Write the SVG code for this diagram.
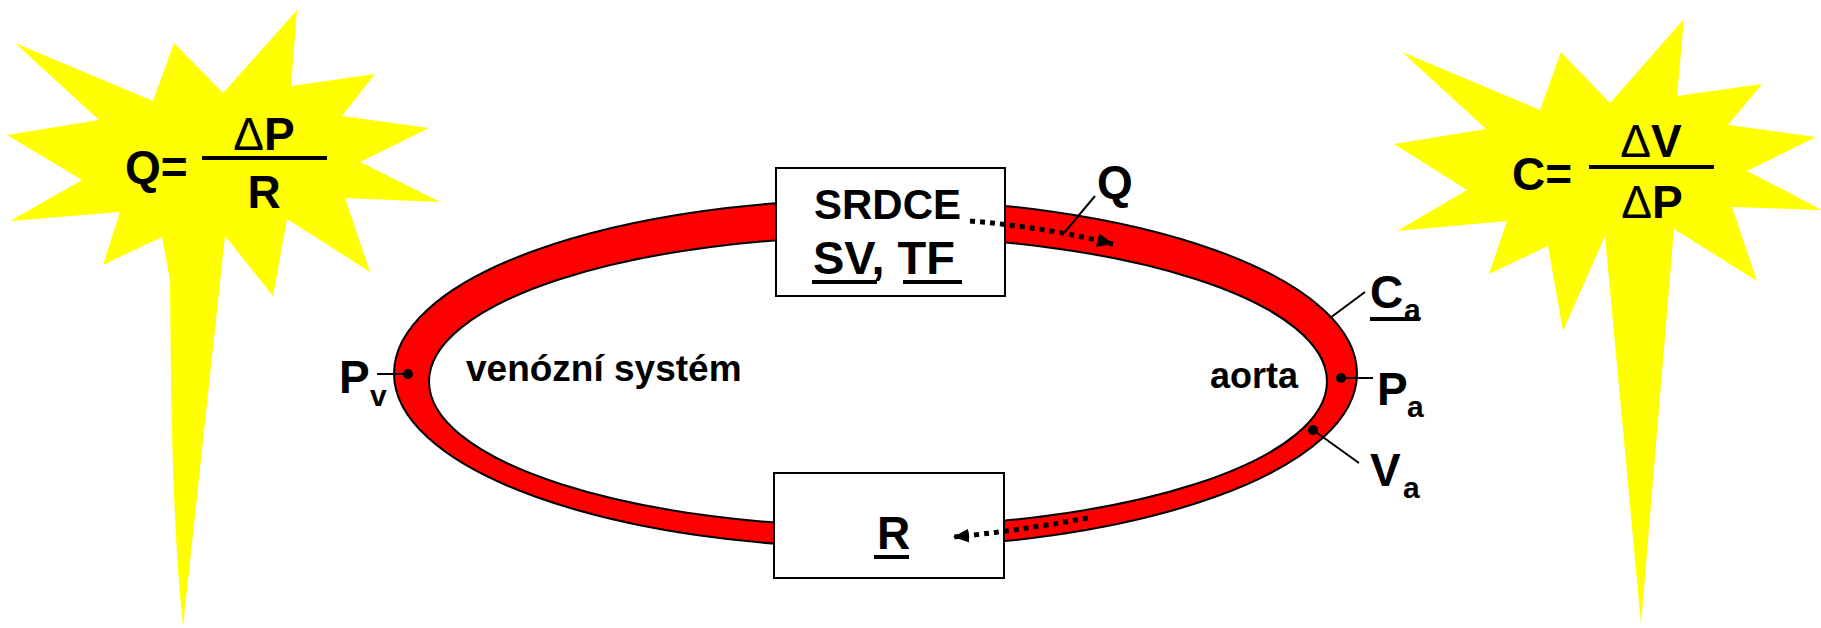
<svg xmlns="http://www.w3.org/2000/svg" width="1821" height="628" viewBox="0 0 1821 628">
<style>
text{font-family:"Liberation Sans",Arial,sans-serif;font-weight:bold;fill:#000}
.big{font-size:46px}
.sub{font-size:30px}
.mid{font-size:37px}
.delta{font-weight:normal}
.star{fill:#FFFF00;stroke:none}
.box{fill:#fff;stroke:#000;stroke-width:2}
.lead{stroke:#000;stroke-width:2;fill:none}
.ul{stroke:#000;stroke-width:4}
.flow{stroke:#000;stroke-width:5;stroke-dasharray:5 5;fill:none}
</style>
<defs>
<marker id="ah" markerUnits="userSpaceOnUse" markerWidth="17" markerHeight="15" refX="16" refY="7" orient="auto">
<path d="M0,0 L16,7 L0,14 z" fill="#000"/>
</marker>
</defs>
<rect width="1821" height="628" fill="#fff"/>

<g id="star-flow">
<path class="star" d="M15,43 L99,120 L7,135 L82,180 L10,221 L120,212 L103,265 L162,237 L170,280 C171,400 172,520 183,627 L225,236 L273,296 L287,219 L370,272 L345,198 L440,202 L360,162 L429,128 L342,116 L375,74 L291,86 L297,10 L223,93 L174,43 L153,101 Z"/>
<text class="big" x="125" y="183">Q=</text>
<line x1="202" y1="158" x2="327" y2="158" stroke="#000" stroke-width="4"/>
<text class="big" x="264" y="150" text-anchor="middle"><tspan class="delta">Δ</tspan>P</text>
<text class="big" x="264" y="208" text-anchor="middle">R</text>
</g>

<g id="star-compliance">
<path class="star" d="M1402,52 L1486,129 L1394,144 L1467,190 L1397,231 L1507,221 L1489,274 L1548,246 L1563,331 L1605,236 L1641,624 L1674,229 L1757,281 L1732,207 L1822,210 L1747,171 L1816,137 L1728,125 L1762,84 L1677,96 L1684,19 L1610,103 L1561,52 L1540,110 Z"/>
<text class="big" x="1512" y="190">C=</text>
<line x1="1589" y1="167" x2="1714" y2="167" stroke="#000" stroke-width="4"/>
<text class="big" x="1651" y="157" text-anchor="middle"><tspan class="delta">Δ</tspan>V</text>
<text class="big" x="1652" y="218" text-anchor="middle"><tspan class="delta">Δ</tspan>P</text>
</g>

<g id="circulation">
<ellipse cx="875.5" cy="373.5" rx="481.5" ry="174" fill="#FF0000" stroke="#000" stroke-width="2"/>
<ellipse cx="878" cy="381.5" rx="449" ry="145" fill="#fff" stroke="#000" stroke-width="2"/>
<text class="mid" x="466" y="381">venózní systém</text>
<text class="mid" x="1210" y="388" style="font-size:36px">aorta</text>
</g>

<g id="srdce">
<rect class="box" x="776" y="168" width="229" height="128"/>
<text x="814" y="219" style="font-size:42px">SRDCE</text>
<text x="813" y="274" style="font-size:47px">SV, TF</text>
<line class="ul" x1="812" y1="282" x2="877" y2="282"/>
<line class="ul" x1="903" y1="282" x2="962" y2="282"/>
</g>

<g id="resistance">
<rect class="box" x="774" y="473" width="230" height="105"/>
<text class="big" x="877" y="549">R</text>
<line class="ul" x1="874" y1="557" x2="909" y2="557"/>
</g>

<g id="label-Q">
<text class="big" x="1097" y="198">Q</text>
</g>
<g id="label-Pv">
<text class="big" x="339" y="393">P</text>
<text class="sub" x="370" y="406">v</text>
</g>
<g id="label-Ca">
<text class="big" x="1370" y="308">C</text>
<text class="sub" x="1404" y="320">a</text>
<line class="ul" x1="1370" y1="319" x2="1420" y2="319"/>
</g>
<g id="label-Pa">
<text class="big" x="1377" y="405">P</text>
<text class="sub" x="1407" y="417">a</text>
</g>
<g id="label-Va">
<text class="big" x="1370" y="486">V</text>
<text class="sub" x="1403" y="498">a</text>
</g>

<g id="connectors">
<path class="flow" d="M970,221 Q1045,227 1113,244" marker-end="url(#ah)"/>
<path class="flow" d="M1088,518 Q1010,532 953,537" marker-end="url(#ah)"/>
<line class="lead" x1="1095" y1="196" x2="1064" y2="233"/>
<line class="lead" x1="377" y1="374" x2="408" y2="374"/>
<circle cx="408" cy="374" r="5" fill="#000"/>
<line class="lead" x1="1330" y1="318" x2="1365" y2="292"/>
<line class="lead" x1="1341" y1="378" x2="1373" y2="378"/>
<circle cx="1341" cy="378" r="5" fill="#000"/>
<line class="lead" x1="1313" y1="430" x2="1359" y2="463"/>
<circle cx="1313" cy="430" r="5" fill="#000"/>
</g>
</svg>
